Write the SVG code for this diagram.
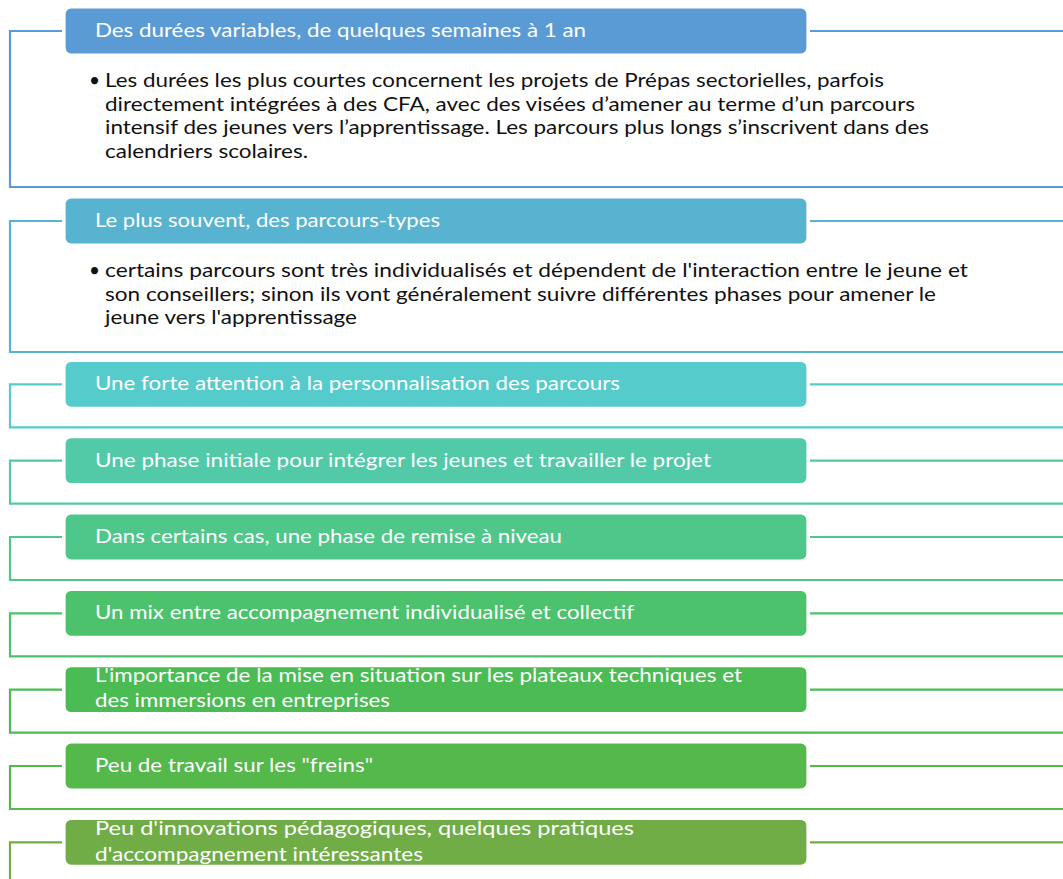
<svg xmlns="http://www.w3.org/2000/svg" width="1063" height="879" viewBox="0 0 1063 879">
<style>
.hd{stroke:#ffffff;stroke-width:1.2}
.ln{fill:none;stroke-width:2.2}
.ht{font-family:Lato,"Open Sans",sans-serif;font-size:19px;fill:#ffffff}
.bt{font-family:Lato,"Open Sans",sans-serif;font-size:19px;fill:#111111}
</style>
<rect width="1063" height="879" fill="#ffffff"/>
<g id="connectors">
<path class="ln" stroke="#5B9BD5" d="M62,31H10V187H1063M810,31H1063"/>
<path class="ln" stroke="#58B3D0" d="M62,221H10V352H1063M810,221H1063"/>
<path class="ln" stroke="#56CBCB" d="M62,384.3H10V427.3H1063M810,384.3H1063"/>
<path class="ln" stroke="#52C9A7" d="M62,460.6H10V503.6H1063M810,460.6H1063"/>
<path class="ln" stroke="#4FC78A" d="M62,537H10V580H1063M810,537H1063"/>
<path class="ln" stroke="#4CC26D" d="M62,613.3H10V656.3H1063M810,613.3H1063"/>
<path class="ln" stroke="#4BBB53" d="M62,689.6H10V732.6H1063M810,689.6H1063"/>
<path class="ln" stroke="#55B84B" d="M62,766H10V809H1063M810,766H1063"/>
<path class="ln" stroke="#70AD47" d="M62,842.3H10V885H1063M810,842.3H1063"/>
</g>
<g id="node1">
<rect class="hd" x="65" y="8" width="742" height="46" rx="6" fill="#5B9BD5"/>
<text class="ht" x="95" y="37" textLength="491" lengthAdjust="spacingAndGlyphs">Des durées variables, de quelques semaines à 1 an</text>
<text class="bt" x="89" y="87">•</text>
<text class="bt" x="105" y="87" textLength="779" lengthAdjust="spacingAndGlyphs">Les durées les plus courtes concernent les projets de Prépas sectorielles, parfois</text>
<text class="bt" x="105" y="110.5" textLength="810" lengthAdjust="spacingAndGlyphs">directement intégrées à des CFA, avec des visées d’amener au terme d’un parcours</text>
<text class="bt" x="105" y="134" textLength="824" lengthAdjust="spacingAndGlyphs">intensif des jeunes vers l’apprentissage. Les parcours plus longs s’inscrivent dans des</text>
<text class="bt" x="105" y="157.5" textLength="203" lengthAdjust="spacingAndGlyphs">calendriers scolaires.</text>
</g>
<g id="node2">
<rect class="hd" x="65" y="198" width="742" height="46" rx="6" fill="#58B3D0"/>
<text class="ht" x="95" y="227" textLength="345" lengthAdjust="spacingAndGlyphs">Le plus souvent, des parcours-types</text>
<text class="bt" x="89" y="277">•</text>
<text class="bt" x="105" y="277" textLength="863" lengthAdjust="spacingAndGlyphs">certains parcours sont très individualisés et dépendent de l'interaction entre le jeune et</text>
<text class="bt" x="105" y="300.5" textLength="831" lengthAdjust="spacingAndGlyphs">son conseillers; sinon ils vont généralement suivre différentes phases pour amener le</text>
<text class="bt" x="105" y="324" textLength="252" lengthAdjust="spacingAndGlyphs">jeune vers l'apprentissage</text>
</g>
<g id="node3">
<rect class="hd" x="65" y="361.3" width="742" height="46" rx="6" fill="#56CBCB"/>
<text class="ht" x="95" y="390.3" textLength="525" lengthAdjust="spacingAndGlyphs">Une forte attention à la personnalisation des parcours</text>
</g>
<g id="node4">
<rect class="hd" x="65" y="437.6" width="742" height="46" rx="6" fill="#52C9A7"/>
<text class="ht" x="95" y="466.6" textLength="616" lengthAdjust="spacingAndGlyphs">Une phase initiale pour intégrer les jeunes et travailler le projet</text>
</g>
<g id="node5">
<rect class="hd" x="65" y="514" width="742" height="46" rx="6" fill="#4FC78A"/>
<text class="ht" x="95" y="543" textLength="467" lengthAdjust="spacingAndGlyphs">Dans certains cas, une phase de remise à niveau</text>
</g>
<g id="node6">
<rect class="hd" x="65" y="590.3" width="742" height="46" rx="6" fill="#4CC26D"/>
<text class="ht" x="95" y="619.3" textLength="539" lengthAdjust="spacingAndGlyphs">Un mix entre accompagnement individualisé et collectif</text>
</g>
<g id="node7">
<rect class="hd" x="65" y="666.6" width="742" height="46" rx="6" fill="#4BBB53"/>
<text class="ht" x="95" y="681.5" textLength="647" lengthAdjust="spacingAndGlyphs">L'importance de la mise en situation sur les plateaux techniques et</text>
<text class="ht" x="95" y="707" textLength="295" lengthAdjust="spacingAndGlyphs">des immersions en entreprises</text>
</g>
<g id="node8">
<rect class="hd" x="65" y="743" width="742" height="46" rx="6" fill="#55B84B"/>
<text class="ht" x="95" y="772" textLength="278" lengthAdjust="spacingAndGlyphs">Peu de travail sur les "freins"</text>
</g>
<g id="node9">
<rect class="hd" x="65" y="819.3" width="742" height="46" rx="6" fill="#70AD47"/>
<text class="ht" x="95" y="835" textLength="539" lengthAdjust="spacingAndGlyphs">Peu d'innovations pédagogiques, quelques pratiques</text>
<text class="ht" x="95" y="860.5" textLength="328" lengthAdjust="spacingAndGlyphs">d'accompagnement intéressantes</text>
</g>
</svg>
